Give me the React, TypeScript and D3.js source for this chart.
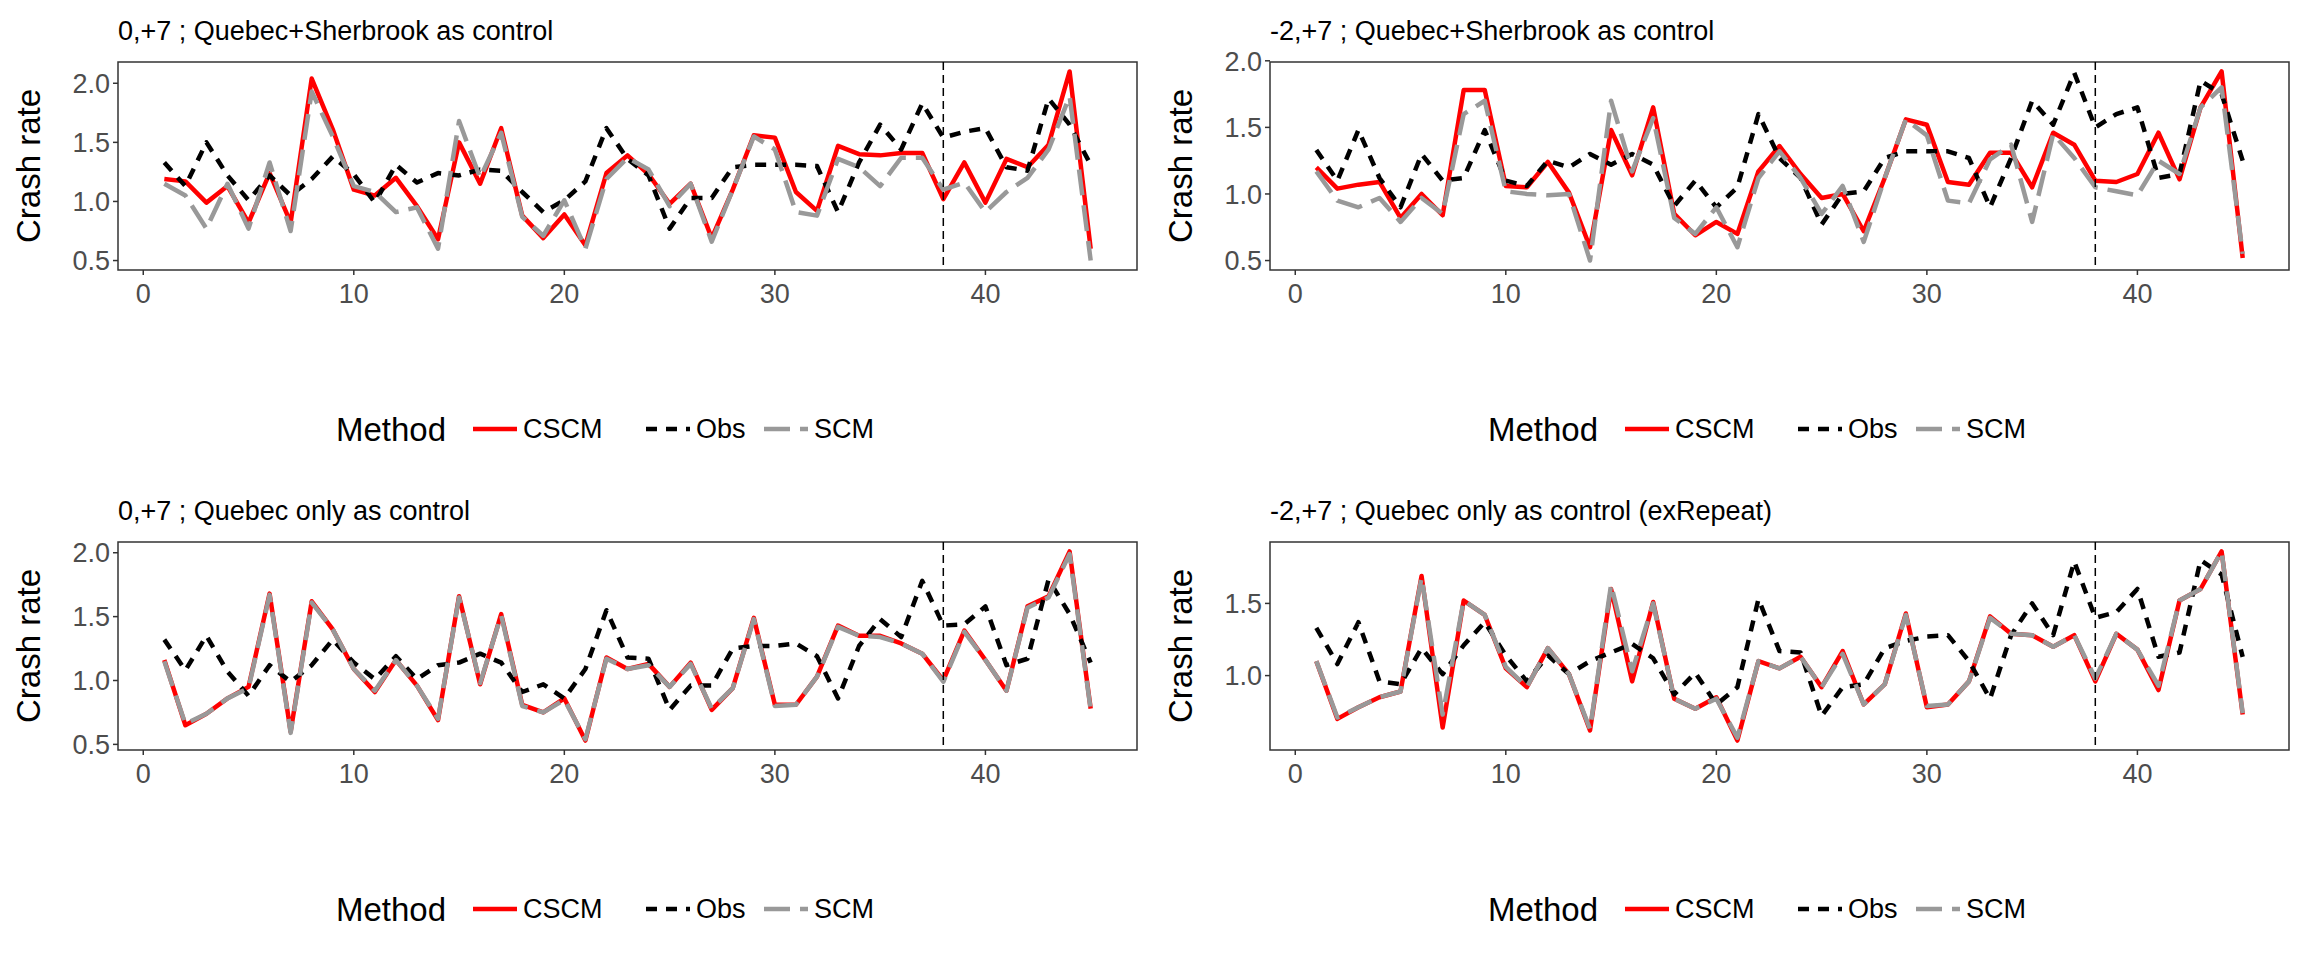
import React from 'react';
import * as d3 from 'd3';

const periods = d3.range(1, 46);

// panel 1: 0,+7 ; Quebec+Sherbrook
const cscm1 = [1.19,1.17,0.99,1.13,0.82,1.24,0.82,2.04,1.61,1.10,1.05,1.20,0.96,0.68,1.50,1.15,1.62,0.88,0.69,0.89,0.63,1.24,1.39,1.23,0.98,1.15,0.69,1.10,1.56,1.54,1.08,0.92,1.47,1.40,1.39,1.41,1.41,1.02,1.33,0.99,1.36,1.29,1.48,2.10,0.60];
const obs1 = [1.33,1.13,1.50,1.22,1.01,1.22,1.05,1.19,1.38,1.23,0.99,1.31,1.16,1.24,1.22,1.27,1.26,1.08,0.91,1.01,1.17,1.62,1.36,1.22,0.77,1.03,1.03,1.29,1.31,1.31,1.31,1.30,0.91,1.33,1.65,1.44,1.83,1.54,1.59,1.62,1.29,1.26,1.87,1.65,1.31];
const scm1 = [1.15,1.05,0.77,1.15,0.77,1.33,0.75,1.93,1.55,1.13,1.08,0.91,0.95,0.60,1.68,1.20,1.58,0.87,0.71,1.01,0.60,1.19,1.37,1.27,0.96,1.15,0.66,1.10,1.55,1.44,0.91,0.88,1.36,1.29,1.13,1.37,1.37,1.10,1.16,0.91,1.08,1.20,1.44,1.89,0.50];

// panel 2: -2,+7 ; Quebec+Sherbrook
const cscm2 = [1.20,1.04,1.07,1.09,0.82,1.00,0.84,1.78,1.78,1.06,1.05,1.24,1.01,0.60,1.48,1.14,1.65,0.85,0.69,0.79,0.70,1.17,1.36,1.15,0.97,1.00,0.72,1.12,1.56,1.52,1.09,1.07,1.31,1.31,1.05,1.46,1.37,1.10,1.09,1.15,1.46,1.11,1.65,1.92,0.52];
const obs2 = [1.33,1.10,1.48,1.12,0.90,1.30,1.10,1.12,1.48,1.10,1.06,1.25,1.20,1.30,1.22,1.30,1.22,0.91,1.10,0.90,1.05,1.60,1.27,1.12,0.77,1.00,1.02,1.27,1.32,1.32,1.32,1.27,0.90,1.27,1.70,1.52,1.91,1.50,1.60,1.65,1.12,1.15,1.85,1.75,1.25];
const scm2 = [1.17,0.95,0.90,0.97,0.79,0.97,0.85,1.60,1.70,1.02,1.00,0.99,1.00,0.50,1.70,1.17,1.57,0.82,0.70,0.90,0.60,1.12,1.32,1.12,0.85,1.06,0.64,1.12,1.56,1.44,0.95,0.93,1.26,1.37,0.79,1.45,1.27,1.05,1.02,0.99,1.25,1.15,1.65,1.80,0.55];

// panel 3: 0,+7 ; Quebec only
const cscm3 = [1.16,0.65,0.74,0.86,0.95,1.68,0.60,1.62,1.40,1.09,0.91,1.16,0.96,0.69,1.66,0.97,1.52,0.81,0.75,0.86,0.53,1.18,1.09,1.13,0.95,1.14,0.77,0.94,1.49,0.81,0.81,1.03,1.43,1.35,1.35,1.29,1.21,1.00,1.39,1.16,0.92,1.58,1.66,2.01,0.78];
const obs3 = [1.32,1.08,1.35,1.07,0.88,1.12,0.99,1.12,1.32,1.14,1.01,1.19,1.01,1.12,1.14,1.21,1.14,0.91,0.97,0.86,1.09,1.55,1.18,1.17,0.77,0.96,0.96,1.25,1.27,1.27,1.29,1.19,0.86,1.27,1.48,1.34,1.78,1.43,1.44,1.58,1.12,1.17,1.79,1.52,1.14];
const scm3 = [1.15,0.66,0.74,0.86,0.94,1.67,0.59,1.61,1.40,1.09,0.92,1.16,0.96,0.70,1.65,0.98,1.51,0.80,0.75,0.85,0.54,1.17,1.09,1.12,0.95,1.13,0.78,0.94,1.48,0.80,0.81,1.03,1.42,1.35,1.34,1.29,1.21,0.99,1.38,1.16,0.92,1.57,1.65,1.99,0.77];

// panel 4: -2,+7 ; Quebec only (exRepeat)
const cscm4 = [1.10,0.70,0.78,0.85,0.89,1.69,0.64,1.52,1.42,1.05,0.92,1.19,1.01,0.62,1.60,0.96,1.51,0.84,0.77,0.85,0.55,1.10,1.05,1.13,0.92,1.17,0.80,0.94,1.43,0.78,0.80,0.96,1.41,1.29,1.28,1.20,1.28,0.96,1.29,1.18,0.90,1.52,1.60,1.86,0.73];
const obs4 = [1.33,1.08,1.37,0.96,0.94,1.19,1.01,1.21,1.37,1.14,0.96,1.14,1.01,1.10,1.16,1.22,1.12,0.87,1.02,0.80,0.92,1.53,1.17,1.16,0.72,0.92,0.94,1.19,1.24,1.27,1.28,1.10,0.84,1.28,1.50,1.28,1.79,1.40,1.44,1.60,1.13,1.16,1.80,1.70,1.13];
const scm4 = [1.10,0.71,0.78,0.85,0.89,1.68,0.73,1.52,1.42,1.06,0.92,1.19,1.01,0.63,1.63,1.03,1.50,0.84,0.77,0.84,0.57,1.10,1.05,1.13,0.92,1.15,0.80,0.94,1.42,0.79,0.80,0.96,1.40,1.29,1.28,1.20,1.28,0.98,1.29,1.18,0.93,1.52,1.60,1.86,0.74];

const titles = [
  '0,+7 ; Quebec+Sherbrook as control',
  '-2,+7 ; Quebec+Sherbrook as control',
  '0,+7 ; Quebec only as control',
  '-2,+7 ; Quebec only as control (exRepeat)',
];
const panels = [
  { cscm: cscm1, obs: obs1, scm: scm1, yTicks: [0.5, 1.0, 1.5, 2.0] },
  { cscm: cscm2, obs: obs2, scm: scm2, yTicks: [0.5, 1.0, 1.5, 2.0] },
  { cscm: cscm3, obs: obs3, scm: scm3, yTicks: [0.5, 1.0, 1.5, 2.0] },
  { cscm: cscm4, obs: obs4, scm: scm4, yTicks: [1.0, 1.5] },
];
const xTicks = [0, 10, 20, 30, 40];
const interventionPeriod = 38;

const methods = [
  { name: 'CSCM', key: 'cscm', color: '#ff0000', dash: '' },
  { name: 'Obs', key: 'obs', color: '#000000', dash: '11,9' },
  { name: 'SCM', key: 'scm', color: '#999999', dash: '26,10' },
];

const font = 'Liberation Sans, Arial, sans-serif';

function Panel({ p, title, ox, oy }: any) {
  const left = 118, right = 1137, top = 62, bottom = 270;
  const all = [...p.cscm, ...p.obs, ...p.scm];
  const [mn, mx] = d3.extent(all) as [number, number];
  const pad = (mx - mn) * 0.05;
  const x = d3.scaleLinear().domain([1 - 2.2, 45 + 2.2]).range([left, right]);
  const y = d3.scaleLinear().domain([mn - pad, mx + pad]).range([bottom, top]);
  const line = d3.line<number>().x((_, i) => x(periods[i])).y(d => y(d));
  const legY = 429;
  return (
    <g transform={`translate(${ox},${oy})`}>
      <text x={left} y={40} fontSize={27} fill="#000">{title}</text>
      <rect x={left} y={top} width={right - left} height={bottom - top} fill="none" stroke="#333" strokeWidth={1.5} />
      {methods.map(m => (
        <path key={m.key} d={line(p[m.key]) ?? ''} fill="none" stroke={m.color} strokeWidth={4.5} strokeDasharray={m.dash} strokeLinejoin="round" />
      ))}
      <line x1={x(interventionPeriod)} x2={x(interventionPeriod)} y1={top} y2={bottom} stroke="#000" strokeWidth={1.5} strokeDasharray="8,5" />
      {p.yTicks.map((t: number) => (
        <g key={t}>
          <line x1={left - 5} x2={left} y1={y(t)} y2={y(t)} stroke="#333" strokeWidth={1.5} />
          <text x={left - 8} y={y(t)} dy="0.36em" textAnchor="end" fontSize={27} fill="#4d4d4d">{t.toFixed(1)}</text>
        </g>
      ))}
      {xTicks.map(t => (
        <g key={t}>
          <line x1={x(t)} x2={x(t)} y1={bottom} y2={bottom + 5} stroke="#333" strokeWidth={1.5} />
          <text x={x(t)} y={bottom + 33} textAnchor="middle" fontSize={27} fill="#4d4d4d">{t}</text>
        </g>
      ))}
      <text transform={`translate(40,${(top + bottom) / 2}) rotate(-90)`} textAnchor="middle" fontSize={33} fill="#000">Crash rate</text>
      <text x={336} y={legY + 12} fontSize={33} fill="#000">Method</text>
      {methods.map((m, i) => {
        const kx = [473, 646, 764][i];
        return (
          <g key={m.key}>
            <line x1={kx} x2={kx + 44} y1={legY} y2={legY} stroke={m.color} strokeWidth={4.5} strokeDasharray={m.dash} />
            <text x={kx + 50} y={legY + 9} fontSize={27} fill="#000">{m.name}</text>
          </g>
        );
      })}
    </g>
  );
}

export default function App() {
  return (
    <svg width={2304} height={960} style={{ position: 'absolute', left: 0, top: 0, background: '#fff' }} fontFamily={font}>
      <rect width={2304} height={960} fill="#fff" />
      {panels.map((p, i) => (
        <Panel key={i} p={p} title={titles[i]} ox={(i % 2) * 1152} oy={Math.floor(i / 2) * 480} />
      ))}
    </svg>
  );
}
